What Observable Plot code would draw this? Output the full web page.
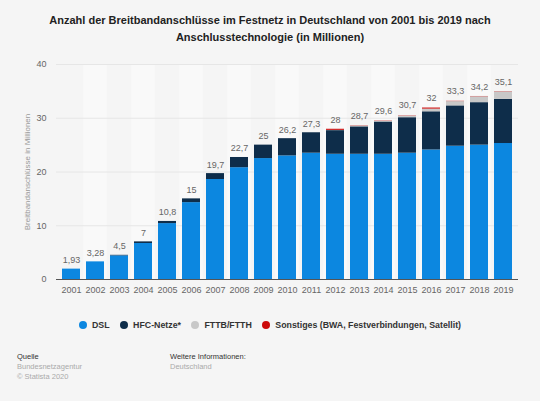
<!DOCTYPE html>
<html>
<head>
<meta charset="utf-8">
<script src="https://cdn.jsdelivr.net/npm/d3@7"></script>
<script src="https://cdn.jsdelivr.net/npm/@observablehq/plot@0.6"></script>
<style>
  body { margin: 0; background: #f5f5f5; font-family: "Liberation Sans", Arial, sans-serif; }
  #wrap { width: 540px; height: 401px; position: relative; overflow: hidden; }
  #title { position: absolute; top: 12px; left: 0; width: 540px; text-align: center;
    font-weight: bold; font-size: 11px; line-height: 17px; color: #222; }
  #chart { position: absolute; top: 55px; left: 0; }
  #legend { position: absolute; top: 320px; left: 0; width: 540px; text-align: center;
    font-size: 8.8px; font-weight: bold; color: #333; }
  #legend span.item { margin: 0 4px; white-space: nowrap; }
  #legend i { display: inline-block; width: 8px; height: 8px; border-radius: 50%;
    vertical-align: -1px; margin-right: 5px; }
  .foot { position: absolute; top: 352px; font-size: 7.5px; line-height: 10px; color: #aaa; }
  .foot b { font-weight: normal; color: #333; }
</style>
</head>
<body>
<div id="wrap">
  <div id="title">Anzahl der Breitbandanschlüsse im Festnetz in Deutschland von 2001 bis 2019 nach<br>Anschlusstechnologie (in Millionen)</div>
  <div id="chart"></div>
  <div id="legend"></div>
  <div class="foot" style="left:17px"><b>Quelle</b><br>Bundesnetzagentur<br>© Statista 2020</div>
  <div class="foot" style="left:170px"><b>Weitere Informationen:</b><br>Deutschland</div>
</div>
<script>
// Werte in Millionen
const years = ["2001","2002","2003","2004","2005","2006","2007","2008","2009","2010",
               "2011","2012","2013","2014","2015","2016","2017","2018","2019"];
const dsl   = [1.93, 3.28, 4.4, 6.7, 10.4, 14.3, 18.6, 20.8, 22.5, 23.0,
               23.5, 23.3, 23.3, 23.3, 23.5, 24.1, 24.8, 25.0, 25.3];
const hfc   = [0, 0, 0.1, 0.3, 0.4, 0.7, 1.1, 1.9, 2.5, 3.2,
               3.8, 4.4, 5.1, 6.0, 6.6, 7.1, 7.5, 7.9, 8.2];
const fttb  = [0, 0, 0, 0, 0, 0, 0, 0, 0, 0,
               0, 0.05, 0.15, 0.15, 0.3, 0.5, 0.8, 1.1, 1.4];
const other = [0, 0, 0, 0, 0, 0, 0, 0, 0, 0,
               0, 0.2, 0.05, 0.05, 0.05, 0.2, 0.05, 0.05, 0.05];
const totals = [1.93, 3.28, 4.5, 7, 10.8, 15, 19.7, 22.7, 25, 26.2,
                27.3, 28, 28.7, 29.6, 30.7, 32, 33.3, 34.2, 35.1];

const seriesNames = ["DSL", "HFC-Netze*", "FTTB/FTTH", "Sonstiges (BWA, Festverbindungen, Satellit)"];
const seriesColors = ["#0c87e0", "#0e2d4a", "#c8c8c8", "#cc0a0a"];

const rows = [];
[dsl, hfc, fttb, other].forEach((vals, s) => {
  vals.forEach((v, i) => rows.push({year: years[i], series: seriesNames[s], value: v}));
});
const labels = years.map((y, i) => ({year: y, total: totals[i]}));
const fmt = v => String(v).replace(".", ",");

const chart = Plot.plot({
  width: 540,
  height: 250,
  marginTop: 9,
  marginBottom: 26,
  marginLeft: 56,
  marginRight: 22,
  style: {background: "transparent", fontFamily: "Liberation Sans, Arial, sans-serif", fontSize: "9px", color: "#666"},
  x: {domain: years, padding: 0.23, label: null, tickSize: 0, tickPadding: 7},
  y: {domain: [0, 40], ticks: [0, 10, 20, 30, 40], label: null, tickSize: 0, tickPadding: 10},
  color: {domain: seriesNames, range: seriesColors},
  marks: [
    // hellere Spalten für gerade Jahre
    Plot.barY(years.filter((y, i) => i % 2 === 1), {x: d => d, y1: 0, y2: 40, fill: "#f9f9f9", insetLeft: -2.8, insetRight: -2.8}),
    Plot.gridY([10, 20, 30, 40], {stroke: "#e6e6e6", strokeOpacity: 1}),
    Plot.barY(rows, {x: "year", y: "value", fill: "series", order: seriesNames}),
    Plot.ruleY([0], {stroke: "#555", strokeWidth: 1.2}),
    Plot.text(labels, {x: "year", y: "total", text: d => fmt(d.total), dy: -9, fill: "#666", fontSize: 9}),
    Plot.text(["Breitbandanschlüsse in Millionen"], {frameAnchor: "left", textAnchor: "middle", dx: -29, rotate: -90, fill: "#999", fontSize: 8})
  ]
});
document.getElementById("chart").appendChild(chart);

document.getElementById("legend").innerHTML = seriesNames.map((n, i) =>
  `<span class="item"><i style="background:${seriesColors[i]}"></i>${n}</span>`).join(" ");
</script>
</body>
</html>
